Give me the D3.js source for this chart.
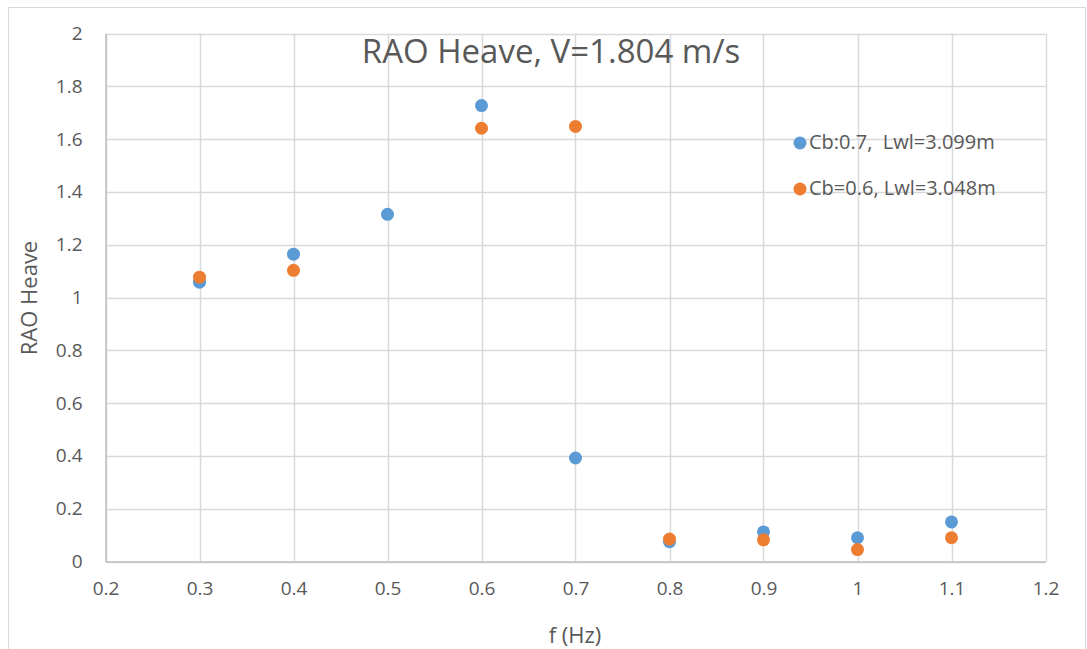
<!DOCTYPE html>
<html>
<head>
<meta charset="utf-8">
<title>RAO Heave</title>
<style>
  body { margin: 0; background: #fff; }
  text { font-family: "Open Sans", "Liberation Sans", Arial, sans-serif; fill: #595959; }
</style>
</head>
<body>
<script src="https://cdn.jsdelivr.net/npm/d3@7"></script>
<script>
// data
var freq = [0.3, 0.4, 0.5, 0.6, 0.7, 0.8, 0.9, 1.0, 1.1];
var cb07 = [1.058, 1.164, 1.315, 1.727, 0.392, 0.075, 0.112, 0.09, 0.15];
var cb06 = [1.077, 1.103, null, 1.641, 1.648, 0.085, 0.082, 0.045, 0.09];
var seriesNames = ['Cb:0.7,  Lwl=3.099m', 'Cb=0.6, Lwl=3.048m'];
var colors = ['#5B9BD5', '#ED7D31'];
var xTicks = [0.2, 0.3, 0.4, 0.5, 0.6, 0.7, 0.8, 0.9, 1, 1.1, 1.2];
var yTicks = [0, 0.2, 0.4, 0.6, 0.8, 1, 1.2, 1.4, 1.6, 1.8, 2];

var W = 1087, H = 649;
var FONT = '"Open Sans", "Liberation Sans", Arial, sans-serif';
var svg = d3.select('body').append('svg').attr('width', W).attr('height', H);

// chart frame
svg.append('rect')
  .attr('x', 8.5).attr('y', 7.5)
  .attr('width', 1077).attr('height', 660)
  .attr('fill', 'none').attr('stroke', '#d9d9d9');

var x = d3.scaleLinear().domain([0.2, 1.2]).range([105.5, 1045.5]);
var y = d3.scaleLinear().domain([0, 2]).range([561.5, 33.5]);

// grid
svg.append('g').selectAll('line').data(xTicks).enter().append('line')
  .attr('x1', function(d){ return Math.round(x(d)) + 0.5; })
  .attr('x2', function(d){ return Math.round(x(d)) + 0.5; })
  .attr('y1', y(2)).attr('y2', y(0))
  .attr('stroke', '#d9d9d9').attr('stroke-width', 1.5);
svg.append('g').selectAll('line').data(yTicks).enter().append('line')
  .attr('y1', function(d){ return Math.round(y(d)) + 0.5; })
  .attr('y2', function(d){ return Math.round(y(d)) + 0.5; })
  .attr('x1', x(0.2)).attr('x2', x(1.2))
  .attr('stroke', '#d9d9d9').attr('stroke-width', 1.5);

// axes (labels only, lines from grid)
var fmt = function(d){ return String(+d.toFixed(1)); };
var xAxis = d3.axisBottom(x).tickValues(xTicks).tickSize(0).tickPadding(20).tickFormat(fmt);
var gx = svg.append('g').attr('transform', 'translate(0,' + y(0) + ')').call(xAxis);
var yAxis = d3.axisLeft(y).tickValues(yTicks).tickSize(0).tickPadding(23).tickFormat(fmt);
var gy = svg.append('g').attr('transform', 'translate(' + x(0.2) + ',0)').call(yAxis);
[gx, gy].forEach(function(g){
  g.select('.domain').attr('stroke', '#bfbfbf').attr('stroke-width', 1.5);
  g.selectAll('text').style('font-size', '19px').style('font-family', FONT).attr('fill', '#595959');
});

// points
[cb07, cb06].forEach(function(vals, k){
  var pts = freq.map(function(f, i){ return {f: f, v: vals[i]}; })
    .filter(function(p){ return p.v !== null; });
  svg.append('g').selectAll('circle').data(pts).enter().append('circle')
    .attr('cx', function(p){ return x(p.f); })
    .attr('cy', function(p){ return y(p.v); })
    .attr('r', 6.5)
    .attr('fill', colors[k]);
});

// title
svg.append('text').attr('x', 551).attr('y', 63).attr('text-anchor', 'middle')
  .style('font-size', '33px').text('RAO Heave, V=1.804 m/s');

// axis titles
svg.append('text').attr('x', 575).attr('y', 643).attr('text-anchor', 'middle')
  .style('font-size', '22px').text('f (Hz)');
svg.append('text').attr('transform', 'translate(37,298) rotate(-90)').attr('text-anchor', 'middle')
  .style('font-size', '22px').text('RAO Heave');

// legend
var leg = svg.append('g').selectAll('g').data(seriesNames).enter().append('g')
  .attr('transform', function(d, i){ return 'translate(800,' + (143 + i * 46) + ')'; });
leg.append('circle').attr('r', 6.5).attr('fill', function(d, i){ return colors[i]; });
leg.append('text').attr('x', 9).attr('y', 6).style('font-size', '20px')
  .attr('xml:space', 'preserve').style('white-space', 'pre')
  .text(function(d){ return d; });
</script>
</body>
</html>
